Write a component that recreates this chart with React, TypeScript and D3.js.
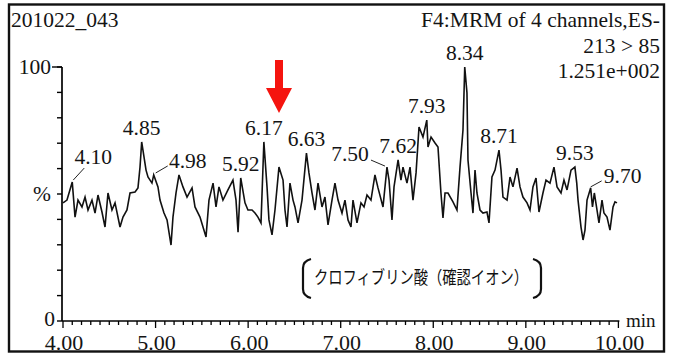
import React from "react";
import * as d3 from "d3";

// Chromatogram trace: retention time (min) and relative intensity (%)
const times = [
  4.0, 4.043, 4.1, 4.13, 4.162, 4.205, 4.238, 4.27, 4.313, 4.346, 4.378, 4.421, 4.454, 4.486, 4.529, 4.562,
  4.616, 4.648, 4.691, 4.724, 4.778, 4.81, 4.832, 4.85, 4.897, 4.918, 4.961, 4.98, 5.026, 5.048, 5.091, 5.124,
  5.167, 5.188, 5.221, 5.253, 5.296, 5.34, 5.394, 5.426, 5.48, 5.545, 5.577, 5.621, 5.653, 5.685, 5.728, 5.782,
  5.836, 5.869, 5.891, 5.92, 5.966, 5.998, 6.042, 6.074, 6.106, 6.139, 6.17, 6.204, 6.225, 6.258, 6.29, 6.333,
  6.377, 6.398, 6.42, 6.452, 6.485, 6.506, 6.539, 6.582, 6.63, 6.657, 6.69, 6.722, 6.755, 6.798, 6.83, 6.863,
  6.906, 6.938, 6.971, 7.014, 7.046, 7.079, 7.111, 7.133, 7.176, 7.219, 7.252, 7.284, 7.327, 7.37, 7.403, 7.457,
  7.5, 7.522, 7.554, 7.576, 7.62, 7.651, 7.673, 7.716, 7.749, 7.781, 7.814, 7.846, 7.889, 7.93, 7.943, 7.976,
  8.019, 8.051, 8.083, 8.105, 8.127, 8.159, 8.213, 8.256, 8.289, 8.321, 8.34, 8.364, 8.375, 8.408, 8.429, 8.451,
  8.472, 8.505, 8.537, 8.58, 8.602, 8.634, 8.667, 8.71, 8.732, 8.753, 8.797, 8.829, 8.861, 8.905, 8.937, 8.969,
  9.013, 9.045, 9.077, 9.11, 9.142, 9.185, 9.218, 9.261, 9.304, 9.337, 9.38, 9.412, 9.445, 9.488, 9.53, 9.55,
  9.564, 9.596, 9.618, 9.639, 9.661, 9.7, 9.72, 9.74, 9.769, 9.79, 9.823, 9.844, 9.877, 9.909, 9.942, 9.963,
  9.985,
];

const intensities = [
  46.5, 47.6, 54.7, 40.9, 47.6, 44.9, 48.8, 43.7, 47.6, 42.5, 49.6, 42.9, 37.0, 50.4, 43.7, 46.5,
  37.0, 40.9, 43.7, 50.4, 50.8, 52.4, 60.6, 70.5, 59.4, 56.7, 54.3, 57.5, 52.8, 47.6, 42.5, 39.8,
  29.9, 40.9, 50.4, 57.5, 52.8, 48.8, 52.4, 44.9, 40.9, 33.1, 47.6, 54.3, 44.9, 52.8, 47.6, 51.6,
  55.5, 47.6, 35.0, 56.3, 46.5, 43.7, 43.7, 42.5, 40.9, 38.6, 70.5, 52.8, 39.8, 33.9, 43.7, 60.6,
  55.5, 43.7, 37.0, 54.3, 47.6, 44.9, 38.6, 47.6, 66.1, 58.3, 50.4, 43.7, 54.3, 44.9, 48.8, 37.8,
  47.6, 54.3, 47.6, 42.5, 47.6, 39.8, 37.0, 47.6, 38.6, 46.5, 44.9, 49.6, 47.6, 57.5, 52.4, 44.9,
  60.6, 55.5, 39.8, 52.8, 63.4, 55.5, 60.6, 54.3, 60.6, 47.6, 58.3, 76.4, 72.4, 79.1, 68.5, 72.4,
  70.1, 68.5, 50.4, 40.6, 50.4, 50.4, 46.9, 43.7, 60.6, 75.2, 100.0, 89.8, 63.4, 50.4, 42.5, 59.4,
  50.4, 43.7, 42.5, 42.9, 38.6, 56.7, 59.4, 67.3, 59.4, 48.8, 47.6, 56.7, 52.8, 60.2, 52.8, 48.8,
  46.5, 43.7, 52.8, 56.3, 42.9, 50.4, 55.5, 54.3, 60.6, 52.8, 50.4, 55.5, 51.6, 59.4, 60.6, 54.3,
  47.6, 37.0, 31.9, 35.8, 47.6, 52.4, 44.9, 50.4, 43.7, 38.6, 47.6, 42.5, 40.9, 35.8, 44.9, 46.9,
  46.5,
];

// Annotated peak apexes (retention times)
const peakLabels = ["4.10", "4.85", "4.98", "5.92", "6.17", "6.63", "7.50", "7.62", "7.93", "8.34", "8.71", "9.53", "9.70"];

const xTickLabels = ["4.00", "5.00", "6.00", "7.00", "8.00", "9.00", "10.00"];
const yTickLabels = ["0", "%", "100"];

const sampleName = "201022_043";
const headerLines = ["F4:MRM of 4 channels,ES-", "213 > 85", "1.251e+002"];
const compoundNote = "クロフィブリン酸（確認イオン）";

// Label placement relative to the apex, plus optional leader line
const labelLayout: Record<string, { dx: number; dy: number; leader?: [number, number, number, number] }> = {
  "4.10": { dx: 21, dy: -18, leader: [1, -2, 12, -14] },
  "4.98": { dx: 34, dy: -7, leader: [2, -2, 14, -9] },
  "7.50": { dx: -37, dy: -6, leader: [-2, -1, -16, -7] },
  "9.70": { dx: 32, dy: -5, leader: [0, -1, 11, -7] },
};

const W = 674;
const H = 356;
const serif = "'Liberation Serif', 'Times New Roman', serif";
const ink = "#141414";
const txt = { fontFamily: serif, fontSize: 21.5, fill: ink } as const;

export default function App() {
  const x = d3.scaleLinear().domain([4, 10]).range([63, 618.4]);
  const y = d3.scaleLinear().domain([0, 100]).range([321, 67]);

  const pts: [number, number][] = times.map((t, i) => [t, intensities[i]]);
  const line = d3
    .line<[number, number]>()
    .x((d) => x(d[0]))
    .y((d) => y(d[1]));

  const minorX = d3.range(40, 101, 1).map((v) => v / 10);
  const minorY = d3.range(0, 101, 10);

  const axisX0 = 62;

  return (
    <svg width={W} height={H} style={{ position: "absolute", left: 0, top: 0, background: "#fff" }}>
      <rect x={0} y={0} width={W} height={H} fill="#fff" />
      {/* frame */}
      <rect x={9} y={4.5} width={655} height={347} fill="none" stroke="#111" strokeWidth={2.4} />

      {/* header */}
      <text x={11} y={27} style={txt}>
        {sampleName}
      </text>
      {headerLines.map((s, i) => (
        <text key={s} x={660} y={27 + i * 25.5} style={txt} textAnchor="end">
          {s}
        </text>
      ))}

      {/* y axis */}
      <line x1={axisX0} x2={axisX0} y1={y(100)} y2={y(0)} stroke="#000" strokeWidth={1.7} />
      {minorY.map((v) => (
        <line key={v} x1={axisX0 - 5} x2={axisX0} y1={y(v)} y2={y(v)} stroke="#000" strokeWidth={1.4} />
      ))}
      <line x1={axisX0 - 10} x2={axisX0} y1={y(100)} y2={y(100)} stroke="#000" strokeWidth={1.4} />
      <text x={51} y={y(100) + 7} style={txt} textAnchor="end">
        {yTickLabels[2]}
      </text>
      <text x={51} y={y(50) + 7} style={txt} textAnchor="end">
        {yTickLabels[1]}
      </text>
      <text x={55} y={y(0) + 5} style={txt} textAnchor="end">
        {yTickLabels[0]}
      </text>

      {/* x axis */}
      <line x1={axisX0} x2={x(10) + 1} y1={y(0)} y2={y(0)} stroke="#000" strokeWidth={1.7} />
      {minorX.map((v) => {
        const major = Math.abs(v - Math.round(v)) < 1e-6;
        return (
          <line
            key={v}
            x1={x(v)}
            x2={x(v)}
            y1={y(0)}
            y2={y(0) + (major ? 7 : 4)}
            stroke="#000"
            strokeWidth={1.3}
          />
        );
      })}
      {xTickLabels.map((s) => (
        <text key={s} x={x(+s) + 1} y={350} style={{ ...txt, fontSize: 22 }} textAnchor="middle">
          {s}
        </text>
      ))}
      <text x={626} y={327} style={{ ...txt, fontSize: 19 }}>
        min
      </text>

      {/* trace */}
      <path d={line(pts) ?? ""} fill="none" stroke="#111" strokeWidth={1.6} strokeLinejoin="miter" />

      {/* peak annotations */}
      {peakLabels.map((s) => {
        const t = +s;
        const i = times.findIndex((v) => Math.abs(v - t) < 1e-6);
        const px = x(t);
        const py = y(intensities[i]);
        const lay = labelLayout[s] ?? { dx: 0, dy: -7 };
        return (
          <g key={s}>
            {lay.leader && (
              <line
                x1={px + lay.leader[0]}
                y1={py + lay.leader[1]}
                x2={px + lay.leader[2]}
                y2={py + lay.leader[3]}
                stroke="#222"
                strokeWidth={1}
              />
            )}
            <text x={px + lay.dx} y={py + lay.dy} style={txt} textAnchor="middle">
              {s}
            </text>
          </g>
        );
      })}

      {/* red marker arrow */}
      <path d="M275,60 L283,60 L283,88 L292,88 L279,113 L266,88 L275,88 Z" fill="#f5140f" />

      {/* compound note in brackets */}
      <path d="M311,259 Q303,261 303,268 L303,289 Q303,296 311,298" fill="none" stroke="#111" strokeWidth={2.2} />
      <path d="M533,259 Q541,261 541,268 L541,289 Q541,296 533,298" fill="none" stroke="#111" strokeWidth={2.2} />
      <text
        x={314}
        y={284}
        fontSize={18}
        fill="#111"
        fontFamily="'Noto Sans CJK JP', sans-serif"
        textLength={214}
        lengthAdjust="spacingAndGlyphs"
      >
        {compoundNote}
      </text>
    </svg>
  );
}
